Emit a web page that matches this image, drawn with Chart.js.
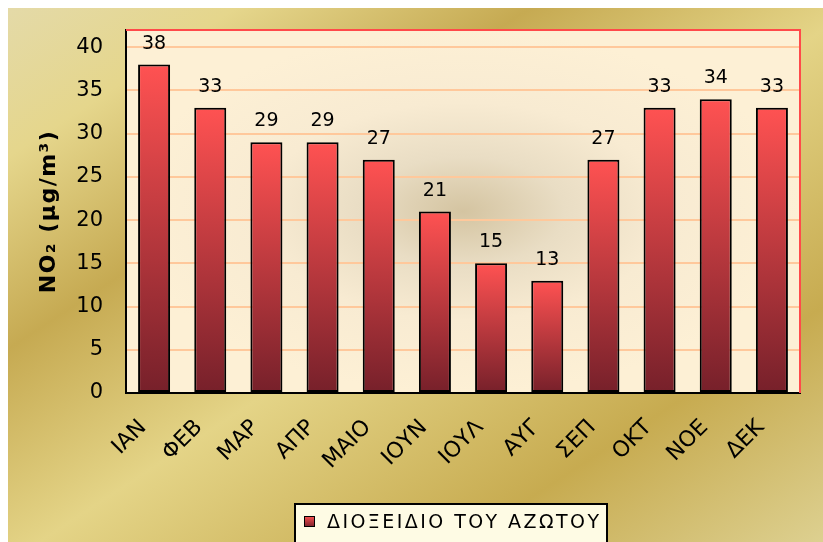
<!DOCTYPE html>
<html>
<head>
<meta charset="utf-8">
<script src="https://cdn.jsdelivr.net/npm/chart.js@4.4.0/dist/chart.umd.min.js"></script>
<style>
html, body { margin: 0; padding: 0; background: #fff; overflow: hidden; }
#wrap { position: absolute; left: 8px; top: 8px; width: 815px; height: 534px; }
</style>
</head>
<body>
<div id="wrap"><canvas id="no2Chart" width="815" height="534"></canvas></div>
<script>
const months = ['ΙΑΝ', 'ΦΕΒ', 'ΜΑΡ', 'ΑΠΡ', 'ΜΑΙΟ', 'ΙΟΥΝ', 'ΙΟΥΛ', 'ΑΥΓ', 'ΣΕΠ', 'ΟΚΤ', 'ΝΟΕ', 'ΔΕΚ'];
const no2Values = [38, 33, 29, 29, 27, 21, 15, 13, 27, 33, 34, 33];
const yTicks = [0, 5, 10, 15, 20, 25, 30, 35, 40];
const yMax = 42;
const seriesName = 'ΔΙΟΞΕΙΔΙΟ ΤΟΥ ΑΖΩΤΟΥ';
const yTitle = 'NO₂ (μg/m³)';

const FONT = '"DejaVu Sans", Verdana, sans-serif';

function barGradient(ctx, top, bottom) {
    const g = ctx.createLinearGradient(0, top, 0, bottom);
    g.addColorStop(0, '#ff5252');
    g.addColorStop(1, '#76202a');
    return g;
}

// gold page background + shaded plot area
const backdrop = {
    id: 'backdrop',
    beforeDraw(chart) {
        const { ctx, width, height, chartArea: a } = chart;
        ctx.save();
        const g = ctx.createLinearGradient(0, 0, 488, 747);
        g.addColorStop(0, '#e4daa8');
        g.addColorStop(0.14, '#e5d68c');
        g.addColorStop(0.32, '#c6aa52');
        g.addColorStop(0.52, '#e4d487');
        g.addColorStop(0.78, '#c7ab50');
        g.addColorStop(1, '#ddd090');
        ctx.fillStyle = g;
        ctx.fillRect(0, 0, width, height);

        const cx = (a.left + a.right) / 2, cy = (a.top + a.bottom) / 2;
        const rx = (a.right - a.left) / 2, ry = (a.bottom - a.top) / 2;
        ctx.beginPath();
        ctx.rect(a.left, a.top, a.right - a.left, a.bottom - a.top);
        ctx.clip();
        ctx.translate(cx, cy);
        ctx.scale(rx / ry, 1);
        const r = ctx.createRadialGradient(0, 0, 0, 0, 0, ry);
        r.addColorStop(0, '#d4c4a1');
        r.addColorStop(0.3, '#e9ddc4');
        r.addColorStop(0.6, '#f8ebd2');
        r.addColorStop(1, '#fdf0d5');
        ctx.fillStyle = r;
        ctx.fillRect(-ry * 1.5, -ry * 1.5, 3 * ry, 3 * ry);
        ctx.restore();
    }
};

const overlay = {
    id: 'overlay',
    afterDatasetsDraw(chart) {
        const { ctx, chartArea: a, scales } = chart;
        ctx.save();
        // red frame on top and right
        ctx.strokeStyle = '#ff4a4a';
        ctx.lineWidth = 2;
        ctx.beginPath();
        ctx.moveTo(a.left, a.top);
        ctx.lineTo(a.right, a.top);
        ctx.lineTo(a.right, a.bottom);
        ctx.stroke();

        // value labels
        ctx.fillStyle = '#000';
        ctx.font = '19px ' + FONT;
        ctx.textAlign = 'center';
        ctx.textBaseline = 'alphabetic';
        chart.getDatasetMeta(0).data.forEach((bar, i) => {
            ctx.fillText(String(no2Values[i]), bar.x, bar.y - 16);
        });

        // slanted month labels
        ctx.font = '22px ' + FONT;
        ctx.textAlign = 'right';
        ctx.textBaseline = 'middle';
        months.forEach((m, i) => {
            const x = scales.x.getPixelForTick(i);
            ctx.save();
            ctx.translate(x - 11, a.bottom + 31);
            ctx.rotate(-Math.PI / 4);
            ctx.fillText(m, 0, 0);
            ctx.restore();
        });
        ctx.restore();
    },
    afterDraw(chart) {
        const { ctx, chartArea: a } = chart;
        ctx.save();
        // y axis title
        ctx.translate(41, (a.top + a.bottom) / 2);
        ctx.rotate(-Math.PI / 2);
        ctx.fillStyle = '#000';
        ctx.font = 'bold 22px ' + FONT;
        ctx.textAlign = 'center';
        ctx.textBaseline = 'middle';
        ctx.letterSpacing = '1.5px';
        ctx.fillText(yTitle, 0, 0);
        ctx.restore();

        // legend box
        ctx.save();
        const bx = 287, by = 496, bw = 312, bh = 50;
        ctx.fillStyle = '#fefbe4';
        ctx.fillRect(bx, by, bw, bh);
        ctx.strokeStyle = '#000';
        ctx.lineWidth = 2;
        ctx.strokeRect(bx, by, bw, bh);
        ctx.fillStyle = barGradient(ctx, 508, 519);
        ctx.fillRect(296, 508, 11, 11);
        ctx.lineWidth = 1;
        ctx.strokeRect(296.5, 508.5, 10, 10);
        ctx.fillStyle = '#000';
        ctx.font = '19px ' + FONT;
        ctx.textAlign = 'left';
        ctx.textBaseline = 'alphabetic';
        const w0 = ctx.measureText(seriesName).width;
        ctx.letterSpacing = Math.max(0, (272 - w0) / (seriesName.length - 1)) + 'px';
        ctx.fillText(seriesName, 319, 520);
        ctx.restore();
    }
};

new Chart(document.getElementById('no2Chart'), {
    type: 'bar',
    data: {
        labels: months,
        datasets: [{
            label: seriesName,
            data: no2Values,
            backgroundColor(context) {
                const chart = context.chart;
                if (!chart.chartArea || context.type !== 'data') return '#ff5050';
                const y = chart.scales.y;
                return barGradient(chart.ctx, y.getPixelForValue(context.raw), y.getPixelForValue(0));
            },
            borderColor: '#000',
            borderWidth: 2,
            borderSkipped: false,
            categoryPercentage: 1,
            barPercentage: 0.57
        }]
    },
    options: {
        responsive: false,
        animation: false,
        layout: { padding: { top: 22, right: 23, left: 0, bottom: 0 } },
        plugins: {
            legend: { display: false },
            tooltip: { enabled: false }
        },
        scales: {
            x: {
                grid: { display: false },
                border: { color: '#000', width: 2 },
                ticks: { display: false },
                afterFit(scale) {
                    scale.height = 149;
                    scale.paddingLeft = 0;
                    scale.paddingRight = 0;
                }
            },
            y: {
                min: 0,
                max: yMax,
                afterBuildTicks(scale) { scale.ticks = yTicks.map(v => ({ value: v })); },
                grid: { color: '#ffc89b', lineWidth: 2, drawTicks: false },
                border: { color: '#000', width: 2 },
                ticks: {
                    color: '#000',
                    font: { family: FONT, size: 21 },
                    padding: 23
                },
                afterFit(scale) {
                    scale.width = 118;
                    scale.paddingTop = 0;
                    scale.paddingBottom = 0;
                }
            }
        }
    },
    plugins: [backdrop, overlay]
});
</script>
</body>
</html>
